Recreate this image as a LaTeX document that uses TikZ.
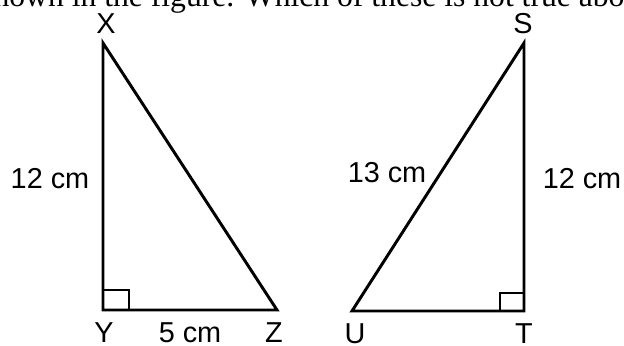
\documentclass[tikz,border=0pt]{standalone}
\usepackage{fontspec}
\setmainfont{Liberation Sans}
\newfontfamily\questfont{Liberation Serif}
\usetikzlibrary{positioning}
\tikzset{
  side/.style={line width=2.1pt},
  vlabel/.style={font=\fontsize{20.5}{24}\selectfont, inner sep=0pt, anchor=base},
}

\begin{document}
\begin{tikzpicture}[x=0.025cm, y=-0.025cm]
  \useasboundingbox (0,0) rectangle (624,345);
  % cut-off question line at the top
  \begin{scope}
    \clip (0,0) rectangle (624,345);
    \node[anchor=base west, inner sep=0pt, font=\questfont\fontsize{22.5}{27}\selectfont] (question) at (-19,6.3) {shown in the figure. Which of these is not true about};
  \end{scope}
  % triangle XYZ
  \coordinate (X) at (103,43);
  \coordinate (Y) at (103,310);
  \coordinate (Z) at (277,310);
  \draw[side] (X) -- (Y) -- (Z) -- cycle;
  \draw[side] (Y) ++(0,-20) -| ++(26,20);
  \node[vlabel] (labX) at (106,33) {X};
  \node[vlabel] (labY) at (104,342) {Y};
  \node[vlabel] (labZ) at (274,342) {Z};
  \node[vlabel] (sideXY) at (50,188) {12 cm};
  \node[vlabel] (sideYZ) at (190,342) {5 cm};
  % triangle STU
  \coordinate (S) at (524,43);
  \coordinate (T) at (524,311);
  \coordinate (U) at (352,311);
  \draw[side] (S) -- (T) -- (U) -- cycle;
  \draw[side] (T) ++(-24,0) |- ++(24,-18);
  \node[vlabel] (labS) at (523,33) {S};
  \node[vlabel] (labT) at (524,343) {T};
  \node[vlabel] (labU) at (355,343) {U};
  \node[vlabel] (sideSU) at (387,182) {13 cm};
  \node[vlabel] (sideST) at (582,188) {12 cm};
\end{tikzpicture}
\end{document}
